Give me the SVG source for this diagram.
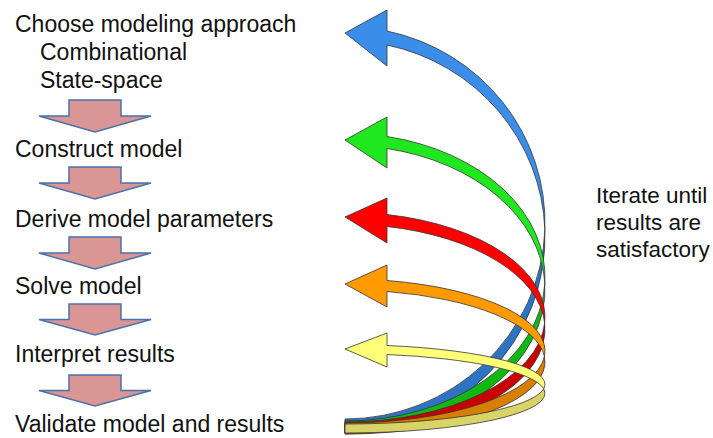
<svg xmlns="http://www.w3.org/2000/svg" xmlns:xlink="http://www.w3.org/1999/xlink" width="713" height="438" viewBox="0 0 713 438">
<style>
.t{font-family:"Liberation Sans",Arial,sans-serif;font-size:23px;fill:#111}
.r{font-family:"Liberation Sans",Arial,sans-serif;font-size:22.5px;fill:#111}
.down{fill:#d99694;stroke:#4a72a8;stroke-width:1.5;stroke-linejoin:miter}
.band{stroke:#333;stroke-width:0.8;stroke-linejoin:round}
.bF{fill:#3a8eea}.bB{fill:#2f74c4}
.gF{fill:#1fe81f}.gB{fill:#12b812}
.rF{fill:#ff0000}.rB{fill:#c80000}
.oF{fill:#ff9a00}.oB{fill:#d67f00}
.yF{fill:#ffff78}.yB{fill:#d8d468}
</style>
<defs>
<path id="dn" d="M69,0 H121 V16 H151 L95,32 L39,16 H69 Z"/>
</defs>
<g id="step1"><text class="t" x="15" y="32">Choose modeling approach</text>
<text class="t" x="40" y="60">Combinational</text>
<text class="t" x="40" y="88">State-space</text></g>
<g id="step2"><text class="t" x="15" y="157">Construct model</text></g>
<g id="step3"><text class="t" x="15" y="227">Derive model parameters</text></g>
<g id="step4"><text class="t" x="15" y="294">Solve model</text></g>
<g id="step5"><text class="t" x="15" y="362">Interpret results</text></g>
<g id="step6"><text class="t" x="15" y="432">Validate model and results</text></g>
<g id="note"><text class="r" x="596" y="203">Iterate until</text>
<text class="r" x="596" y="230">results are</text>
<text class="r" x="596" y="257">satisfactory</text></g>
<g id="connectors">
<use class="down" xlink:href="#dn" href="#dn" transform="translate(0,100)"/>
<use class="down" xlink:href="#dn" href="#dn" transform="translate(0,167)"/>
<use class="down" xlink:href="#dn" href="#dn" transform="translate(0,237)"/>
<use class="down" xlink:href="#dn" href="#dn" transform="translate(0,304) scale(1,0.97)"/>
<use class="down" xlink:href="#dn" href="#dn" transform="translate(0,375) scale(1,0.97)"/>
<g id="loop-blue">
<path class="band bB" d="M345,419 A200,196.19 0 0 0 544.87,229.81 A200,196.19 0 0 1 345,433 Z"/>
<path class="band bF" d="M387,31 A200,196.19 0 0 1 544.87,229.81 A200,196.19 0 0 0 387,45 V66 L345,33 L387,10 Z"/>
</g>
<g id="loop-green">
<path class="band gB" d="M345,421 A200,143.86 0 0 0 544.83,283.14 A200,143.86 0 0 1 345,433 Z"/>
<path class="band gF" d="M387,136.5 A200,143.86 0 0 1 544.83,283.14 A200,143.86 0 0 0 387,148.5 V168 L345,140 L387,117 Z"/>
</g>
<g id="loop-red">
<path class="band rB" d="M345,422 A200,104.92 0 0 0 544.67,323.08 A200,104.92 0 0 1 345,434 Z"/>
<path class="band rF" d="M387,214.5 A200,104.92 0 0 1 544.67,323.08 A200,104.92 0 0 0 387,226.5 V243 L345,217 L387,198 Z"/>
</g>
<g id="loop-orange">
<path class="band oB" d="M345,423 A200,72.05 0 0 0 544.42,356.45 A200,72.05 0 0 1 345,434 Z"/>
<path class="band oF" d="M387,280.5 A200,72.05 0 0 1 544.42,356.45 A200,72.05 0 0 0 387,291.5 V307 L345,284 L387,265 Z"/>
</g>
<g id="loop-yellow">
<path class="band yB" d="M345,424 A200,39.69 0 0 0 543.71,388.81 A200,39.69 0 0 1 345,433 Z"/>
<path class="band yF" d="M387,345.5 A200,39.69 0 0 1 543.71,388.81 A200,39.69 0 0 0 387,354.5 V367 L345,349 L387,333 Z"/>
</g>
</g>
</svg>
